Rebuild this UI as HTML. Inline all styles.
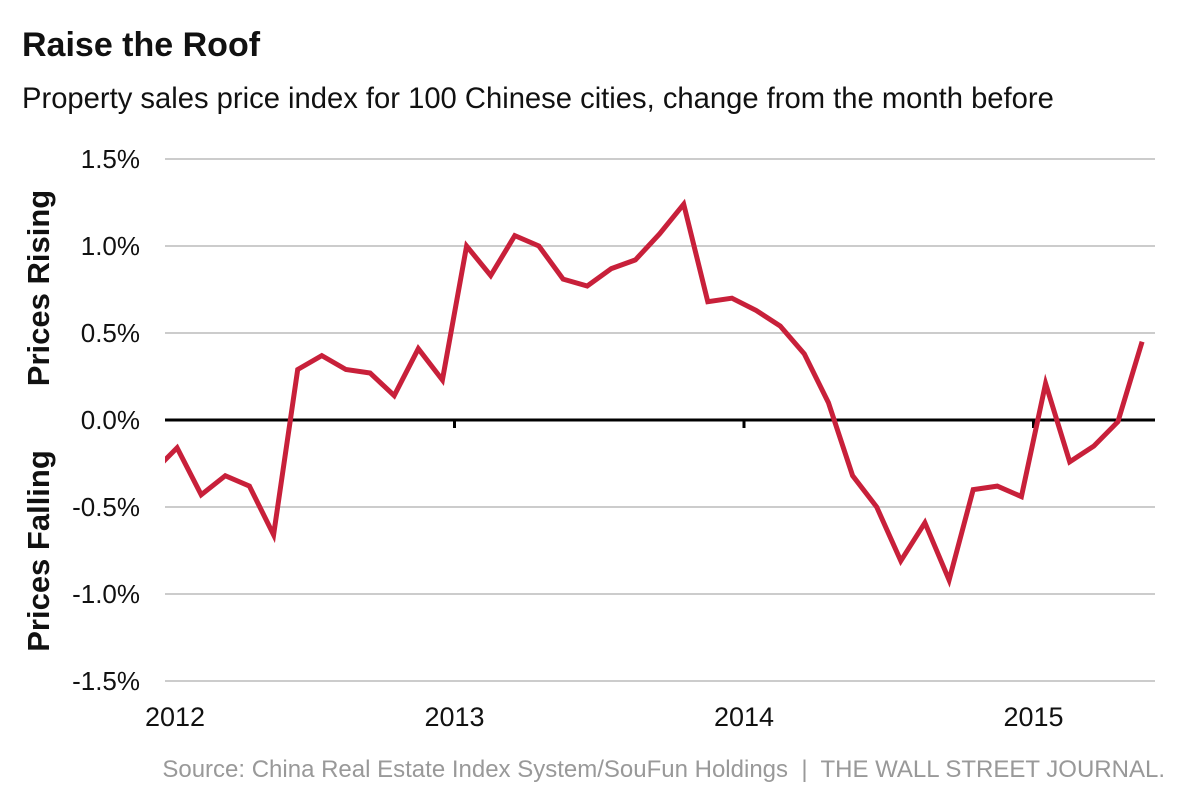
<!DOCTYPE html>
<html><head><meta charset="utf-8"><style>
body{margin:0;background:#fff;width:1200px;height:800px;overflow:hidden;font-family:"Liberation Sans",Arial,sans-serif}
svg text{font-family:"Liberation Sans",Arial,sans-serif}
</style></head><body>
<svg id="chart" width="1200" height="800">
<text x="22" y="56" font-size="34" font-weight="bold" fill="#111">Raise the Roof</text>
<text x="22" y="108" font-size="29.2" fill="#111">Property sales price index for 100 Chinese cities, change from the month before</text>
<g id="grid"></g>
<g id="xaxis"></g>
<text transform="translate(49,288) rotate(-90)" text-anchor="middle" font-size="31" font-weight="bold" fill="#111">Prices Rising</text>
<text transform="translate(49,551) rotate(-90)" text-anchor="middle" font-size="31" font-weight="bold" fill="#111">Prices Falling</text>
<defs><clipPath id="plotclip"><rect x="165" y="140" width="1000" height="560"/></clipPath></defs>
<g id="series" clip-path="url(#plotclip)"></g>
<text x="1165" y="777" text-anchor="end" font-size="24" fill="#999" xml:space="preserve" style="white-space:pre">Source: China Real Estate Index System/SouFun Holdings  |  THE WALL STREET JOURNAL.</text>
</svg>
<script>
const yTicks=[1.5,1.0,0.5,0.0,-0.5,-1.0,-1.5];
const yTickLabels=["1.5%","1.0%","0.5%","0.0%","-0.5%","-1.0%","-1.5%"];
const years=[2012,2013,2014,2015];
// monthly values starting Dec 2011
const values=[-0.30,-0.16,-0.43,-0.32,-0.38,-0.66,0.29,0.37,0.29,0.27,0.14,0.41,0.23,1.00,0.83,1.06,1.00,0.81,0.77,0.87,0.92,1.07,1.24,0.68,0.70,0.63,0.54,0.38,0.10,-0.32,-0.50,-0.81,-0.59,-0.92,-0.40,-0.38,-0.44,0.21,-0.24,-0.15,-0.01,0.45];
const NS="http://www.w3.org/2000/svg";
const y=v=>420-v*174;
const x=m=>165+m*(289.5/12);
const grid=document.getElementById('grid');
yTicks.forEach((t,i)=>{
  if(t!==0){const l=document.createElementNS(NS,'line');
  l.setAttribute('x1',165);l.setAttribute('x2',1155);l.setAttribute('y1',y(t));l.setAttribute('y2',y(t));
  l.setAttribute('stroke','#bbb');l.setAttribute('stroke-width','1.5');
  
  
  grid.appendChild(l);}
  const tx=document.createElementNS(NS,'text');
  tx.setAttribute('x',140);tx.setAttribute('y',y(t)+9);tx.setAttribute('text-anchor','end');
  tx.setAttribute('font-size','26');tx.setAttribute('fill','#111');tx.textContent=yTickLabels[i];
  
  
  grid.appendChild(tx);
});
const xa=document.getElementById('xaxis');
const zl=document.createElementNS(NS,'line');
zl.setAttribute('x1',165);zl.setAttribute('x2',1155);zl.setAttribute('y1',y(0));zl.setAttribute('y2',y(0));
zl.setAttribute('stroke','#000');zl.setAttribute('stroke-width','3');


xa.appendChild(zl);
years.forEach((yr,i)=>{
  const px=x(i*12);
  if(i>0){const tk=document.createElementNS(NS,'line');
  tk.setAttribute('x1',px);tk.setAttribute('x2',px);tk.setAttribute('y1',y(0));tk.setAttribute('y2',y(0)+8);
  tk.setAttribute('stroke','#000');tk.setAttribute('stroke-width','3');
  
  
  xa.appendChild(tk);}
  const tx=document.createElementNS(NS,'text');
  tx.setAttribute('x',i===0?145:px);tx.setAttribute('y',726);tx.setAttribute('text-anchor',i===0?'start':'middle');
  tx.setAttribute('font-size','27');tx.setAttribute('fill','#111');tx.textContent=yr;
  
  
  xa.appendChild(tx);
});
const pts=values.map((v,i)=>x(i-0.5).toFixed(1)+','+y(v).toFixed(1)).join(' ');
const pl=document.createElementNS(NS,'polyline');
pl.setAttribute('points',pts);pl.setAttribute('fill','none');pl.setAttribute('stroke','#c8203a');
pl.setAttribute('stroke-width','5');pl.setAttribute('stroke-linejoin','miter');


document.getElementById('series').appendChild(pl);
</script>
</body></html>
